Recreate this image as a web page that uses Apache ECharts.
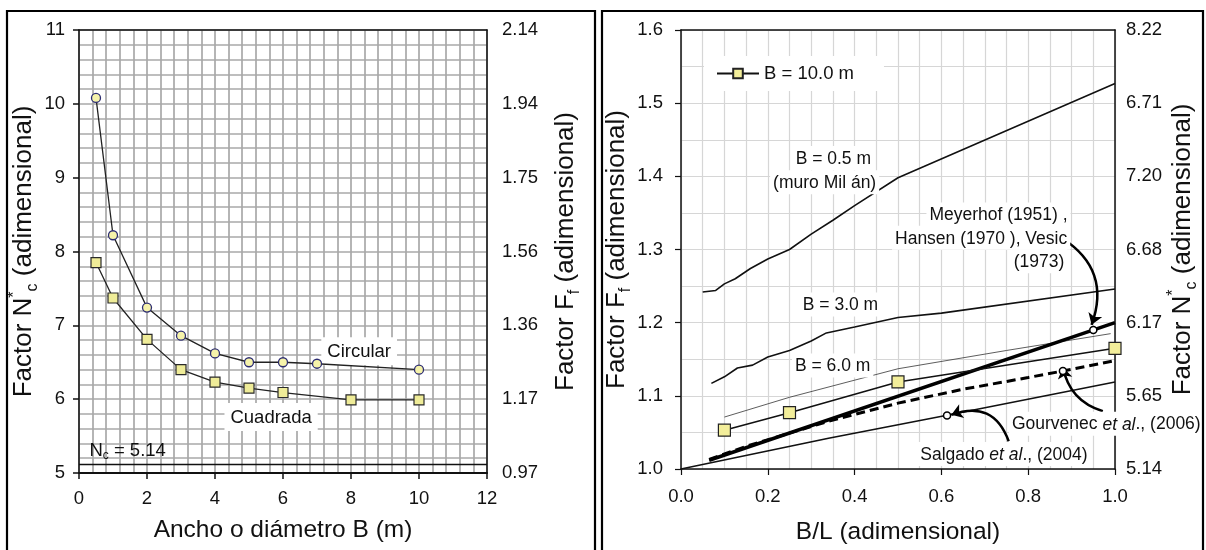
<!DOCTYPE html>
<html><head><meta charset="utf-8">
<script src="https://cdn.jsdelivr.net/npm/echarts@6/dist/echarts.min.js"></script>
<style>html,body{margin:0;padding:0;background:#fff}#c{width:1206px;height:550px}</style>
</head><body><div id="c"></div>
<script>
// ---------- Left chart data ----------
const circX = [0.5, 1, 2, 3, 4, 5, 6, 7, 10];
const circular = [10.08, 8.22, 7.24, 6.86, 6.62, 6.50, 6.50, 6.48, 6.40];
const cuadX = [0.5, 1, 2, 3, 4, 5, 6, 8, 10];
const cuadrada = [7.85, 7.37, 6.81, 6.40, 6.23, 6.15, 6.09, 5.99, 5.99];
const ncValue = 5.12;
const leftRightLabels = ['0.97', '1.17', '1.36', '1.56', '1.75', '1.94', '2.14'];

// ---------- Right chart data ----------
const b05X = [0.05, 0.08, 0.10, 0.125, 0.16, 0.20, 0.25, 0.30, 0.35, 0.40, 0.50, 1.0];
const b05Y = [1.242, 1.244, 1.253, 1.260, 1.274, 1.287, 1.300, 1.321, 1.340, 1.360, 1.398, 1.527];
const b3X = [0.07, 0.10, 0.13, 0.165, 0.20, 0.25, 0.30, 0.335, 0.40, 0.50, 0.60, 1.0];
const b3Y = [1.117, 1.126, 1.138, 1.142, 1.153, 1.162, 1.175, 1.186, 1.194, 1.207, 1.213, 1.246];
const b6X = [0.10, 0.25, 0.50, 0.75, 0.99];
const b6Y = [1.071, 1.098, 1.137, 1.162, 1.185];
const b10X = [0.10, 0.25, 0.50, 1.0];
const b10Y = [1.053, 1.077, 1.119, 1.165];
const meyX = [0.065, 1.0];
const meyY = [1.012, 1.200];
const gouX = [0.065, 0.15, 0.25, 0.35, 0.50, 0.65, 0.80, 0.88, 1.0];
const gouY = [1.013, 1.031, 1.049, 1.067, 1.090, 1.109, 1.125, 1.134, 1.148];
const salX = [0.0, 0.34, 0.61, 1.0];
const salY = [1.000, 1.042, 1.073, 1.119];
const refPtX = [0.95, 0.88, 0.613];
const refPtY = [1.190, 1.134, 1.073];
const rightRightLabels = ['5.14', '5.65', '6.17', '6.68', '7.20', '6.71', '8.22'];

const FONT = 'Liberation Sans, Arial, sans-serif';
const TXT = '#111';
const zip = (xs, ys) => xs.map((x, i) => [x, ys[i]]);

const chart = echarts.init(document.getElementById('c'), null, {renderer: 'canvas'});

const leftGrid = {left: 79, top: 30, width: 408, height: 443, show: false};
const rightGrid = {left: 681, top: 30, width: 434, height: 441, show: false};

const nameRich = {
  a: {fontSize: 26, fontFamily: FONT, color: TXT, lineHeight: 34},
  sup: {fontSize: 16, fontFamily: FONT, color: TXT, verticalAlign: 'top', lineHeight: 16},
  sub: {fontSize: 16, fontFamily: FONT, color: TXT, verticalAlign: 'bottom', lineHeight: 16}
};
const nameStyle = {fontSize: 26, fontFamily: FONT, color: TXT, rich: nameRich};
const tickLabel = (extra) => Object.assign({fontSize: 18.5, fontFamily: FONT, color: TXT}, extra);

const topAxis = (g, min, max) => ({
  gridIndex: g, type: 'value', position: 'top', min: min, max: max,
  axisLine: {show: true, lineStyle: {color: '#111', width: 1.5}},
  axisTick: {show: false}, axisLabel: {show: false}, splitLine: {show: false}
});

function textItem(x, y, fmt, extra) {
  return {value: [x, y], label: Object.assign({show: true, position: 'inside', formatter: fmt}, extra || {})};
}
const labelRich = {
  n: {fontSize: 17.5, fontFamily: FONT, color: TXT},
  i: {fontSize: 17.5, fontFamily: FONT, color: TXT, fontStyle: 'italic'}
};
const labelBase = {fontSize: 17.5, fontFamily: FONT, color: TXT, lineHeight: 22, rich: labelRich};

const option = {
  animation: false,
  backgroundColor: '#fff',
  textStyle: {fontFamily: FONT},
  graphic: [
    {type: 'rect', silent: true, z: 100, shape: {x: 7, y: 11, width: 588, height: 560}, style: {fill: 'none', stroke: '#000', lineWidth: 2.2}},
    {type: 'rect', silent: true, z: 100, shape: {x: 602, y: 11, width: 601, height: 560}, style: {fill: 'none', stroke: '#000', lineWidth: 2.2}}
  ],
  legend: {
    data: ['B = 10.0 m'], left: 704, top: 56, orient: 'vertical',
    backgroundColor: '#fff', padding: [8, 30, 8, 12],
    itemWidth: 42, itemHeight: 12, itemGap: 4,
    textStyle: {fontSize: 18.5, fontFamily: FONT, color: TXT}
  },
  grid: [leftGrid, rightGrid],
  xAxis: [
    {
      gridIndex: 0, type: 'value', min: 0, max: 12, interval: 2,
      name: 'Ancho o diámetro B (m)', nameLocation: 'middle', nameGap: 45,
      nameTextStyle: {fontSize: 24.5, fontFamily: FONT, color: TXT},
      axisLine: {show: true, onZero: false, lineStyle: {color: '#111', width: 2}},
      axisTick: {show: true, length: 6, lineStyle: {color: '#111', width: 1.5}},
      axisLabel: tickLabel({margin: 16}),
      splitLine: {show: true, lineStyle: {color: '#a8a8a8', width: 1.7}},
      minorTick: {show: false, splitNumber: 5},
      minorSplitLine: {show: true, lineStyle: {color: '#a8a8a8', width: 1.7}}
    },
    {
      gridIndex: 1, type: 'value', min: 0, max: 1, interval: 0.2,
      name: 'B/L (adimensional)', nameLocation: 'middle', nameGap: 51,
      nameTextStyle: {fontSize: 24.5, fontFamily: FONT, color: TXT},
      axisLine: {show: true, onZero: false, lineStyle: {color: '#111', width: 1.5}},
      axisTick: {show: true, length: 6, lineStyle: {color: '#111', width: 1.2}},
      axisLabel: tickLabel({margin: 18, formatter: v => v.toFixed(1)}),
      splitLine: {show: true, lineStyle: {color: '#d6d6d6', width: 1.2}},
      minorTick: {show: false, splitNumber: 4},
      minorSplitLine: {show: true, lineStyle: {color: '#d6d6d6', width: 1.2}}
    },
    topAxis(0, 0, 12),
    topAxis(1, 0, 1)
  ],
  yAxis: [
    {
      gridIndex: 0, type: 'value', min: 5, max: 11, interval: 1,
      name: '{a|Factor N}{sup|*}{sub|c}{a| (adimensional)}', nameLocation: 'middle', nameGap: 37,
      nameTextStyle: nameStyle,
      axisLine: {show: true, onZero: false, lineStyle: {color: '#111', width: 1.5}},
      axisTick: {show: true, length: 6, lineStyle: {color: '#111', width: 1.5}},
      axisLabel: tickLabel({margin: 14}),
      splitLine: {show: true, lineStyle: {color: '#a8a8a8', width: 1.7}},
      minorTick: {show: false, splitNumber: 5},
      minorSplitLine: {show: true, lineStyle: {color: '#a8a8a8', width: 1.7}}
    },
    {
      gridIndex: 0, type: 'value', position: 'right', min: 5, max: 11, interval: 1,
      name: '{a|Factor F}{sub|f}{a| (adimensional)}', nameLocation: 'middle', nameGap: 62,
      nameTextStyle: nameStyle,
      axisLine: {show: true, onZero: false, lineStyle: {color: '#111', width: 1.5}},
      axisTick: {show: false},
      axisLabel: tickLabel({margin: 15, formatter: (v) => leftRightLabels[Math.round(v - 5)]}),
      splitLine: {show: false}
    },
    {
      gridIndex: 1, type: 'value', min: 1.0, max: 1.6, interval: 0.1,
      name: '{a|Factor F}{sub|f}{a| (adimensional)}', nameLocation: 'middle', nameGap: 46,
      nameTextStyle: nameStyle,
      axisLine: {show: true, onZero: false, lineStyle: {color: '#111', width: 1.5}},
      axisTick: {show: true, length: 6, lineStyle: {color: '#111', width: 1.2}},
      axisLabel: tickLabel({margin: 18, formatter: v => v.toFixed(1)}),
      splitLine: {show: true, lineStyle: {color: '#d6d6d6', width: 1.2}},
      minorTick: {show: false, splitNumber: 2},
      minorSplitLine: {show: true, lineStyle: {color: '#d6d6d6', width: 1.2}}
    },
    {
      gridIndex: 1, type: 'value', position: 'right', min: 1.0, max: 1.6, interval: 0.1,
      name: '{a|Factor N}{sup|*}{sub|c}{a| (adimensional)}', nameLocation: 'middle', nameGap: 51,
      nameTextStyle: nameStyle,
      axisLine: {show: true, onZero: false, lineStyle: {color: '#111', width: 1.5}},
      axisTick: {show: false},
      axisLabel: tickLabel({margin: 11, formatter: (v) => rightRightLabels[Math.round((v - 1.0) * 10)]}),
      splitLine: {show: false}
    }
  ],
  series: [
    // ----- left chart -----
    {
      type: 'line', name: 'Circular', xAxisIndex: 0, yAxisIndex: 0, z: 5,
      data: zip(circX, circular),
      symbol: 'circle', symbolSize: 9, showAllSymbol: true,
      lineStyle: {color: '#222', width: 1.3},
      itemStyle: {color: '#f6f3aa', borderColor: '#2d2d72', borderWidth: 1.3},
      markLine: {
        silent: true, symbol: 'none', label: {show: false},
        lineStyle: {color: '#111', width: 1.3, type: 'solid'},
        data: [{yAxis: ncValue}]
      }
    },
    {
      type: 'line', name: 'Cuadrada', xAxisIndex: 0, yAxisIndex: 0, z: 5,
      data: zip(cuadX, cuadrada),
      symbol: 'rect', symbolSize: 10, showAllSymbol: true,
      lineStyle: {color: '#222', width: 1.3},
      itemStyle: {color: '#efec98', borderColor: '#2a2a2a', borderWidth: 1.2}
    },
    {
      type: 'scatter', name: '_leftText', xAxisIndex: 0, yAxisIndex: 0, symbolSize: 0, z: 4, silent: true,
      itemStyle: {opacity: 1},
      label: Object.assign({}, labelBase, {fontSize: 18.5}),
      data: [
        textItem(8.24, 6.65, '{n|Circular}', {backgroundColor: '#fff', padding: [4, 6, 2, 6], rich: {n: {fontSize: 18.5, fontFamily: FONT, color: TXT}}}),
        textItem(5.65, 5.76, '{n|Cuadrada}', {backgroundColor: '#fff', padding: [4, 6, 2, 6], rich: {n: {fontSize: 18.5, fontFamily: FONT, color: TXT}}}),
        textItem(1.43, 5.30, '{n|N}{s|c}{n| = 5.14}', {rich: {n: {fontSize: 18.5, fontFamily: FONT, color: TXT, lineHeight: 22}, s: {fontSize: 12, fontFamily: FONT, color: TXT, verticalAlign: 'bottom', lineHeight: 12}}})
      ]
    },
    // ----- right chart -----
    {
      type: 'line', name: 'B = 0.5 m', xAxisIndex: 1, yAxisIndex: 2, symbol: 'none', z: 5,
      data: zip(b05X, b05Y), lineStyle: {color: '#111', width: 1.6}
    },
    {
      type: 'line', name: 'B = 3.0 m', xAxisIndex: 1, yAxisIndex: 2, symbol: 'none', z: 5,
      data: zip(b3X, b3Y), lineStyle: {color: '#111', width: 1.6}
    },
    {
      type: 'line', name: 'B = 6.0 m', xAxisIndex: 1, yAxisIndex: 2, symbol: 'none', z: 5,
      data: zip(b6X, b6Y), lineStyle: {color: '#333', width: 0.8}
    },
    {
      type: 'line', name: 'Meyerhof', xAxisIndex: 1, yAxisIndex: 2, symbol: 'none', z: 5,
      data: zip(meyX, meyY), lineStyle: {color: '#000', width: 3.5}
    },
    {
      type: 'line', name: 'Gourvenec', xAxisIndex: 1, yAxisIndex: 2, symbol: 'none', z: 5,
      data: zip(gouX, gouY), lineStyle: {color: '#000', width: 3, type: [9, 5]}
    },
    {
      type: 'line', name: 'Salgado', xAxisIndex: 1, yAxisIndex: 2, symbol: 'none', z: 5,
      data: zip(salX, salY), lineStyle: {color: '#111', width: 1.6}
    },
    {
      type: 'line', name: 'B = 10.0 m', xAxisIndex: 1, yAxisIndex: 2, z: 6,
      data: zip(b10X, b10Y),
      symbol: 'rect', symbolSize: 12, showAllSymbol: true,
      lineStyle: {color: '#111', width: 1.6},
      itemStyle: {color: '#f3ee9a', borderColor: '#222', borderWidth: 1.2}
    },
    {
      type: 'lines', name: '_arrows', coordinateSystem: 'cartesian2d', xAxisIndex: 1, yAxisIndex: 2, z: 7, silent: true,
      symbol: ['none', 'arrow'], symbolSize: [1, 11],
      lineStyle: {color: '#000', width: 2.5, opacity: 1},
      data: [
        {coords: [[0.879, 1.315], [0.946, 1.197]], lineStyle: {curveness: 0.4}},
        {coords: [[0.972, 1.079], [0.880, 1.139]], lineStyle: {curveness: 0.3}},
        {coords: [[0.755, 1.038], [0.623, 1.074]], lineStyle: {curveness: -0.5}}
      ]
    },
    {
      type: 'scatter', name: '_refPts', xAxisIndex: 1, yAxisIndex: 2, z: 8, silent: true,
      data: zip(refPtX, refPtY), symbol: 'circle', symbolSize: 7,
      itemStyle: {color: '#fff', borderColor: '#000', borderWidth: 1.5, opacity: 1}
    },
    {
      type: 'scatter', name: '_rightText', xAxisIndex: 1, yAxisIndex: 2, symbolSize: 0, z: 9, silent: true,
      itemStyle: {opacity: 1},
      label: Object.assign({}, labelBase, {backgroundColor: '#fff', padding: [2, 3, 0, 3]}),
      data: [
        textItem(0.351, 1.425, '{n|B = 0.5 m}'),
        textItem(0.331, 1.392, '{n|(muro Mil án)}'),
        textItem(0.7315, 1.348, '{n|Meyerhof (1951) ,}'),
        textItem(0.6915, 1.316, '{n|Hansen (1970 ), Vesic}'),
        textItem(0.825, 1.284, '{n|(1973)}'),
        textItem(0.3675, 1.225, '{n|B = 3.0 m}'),
        textItem(0.3495, 1.1416, '{n|B = 6.0 m}'),
        textItem(0.980, 1.062, '{n|Gourvenec }{i|et al}{n|., (2006)}'),
        textItem(0.744, 1.0205, '{n|Salgado }{i|et al}{n|., (2004)}')
      ]
    }
  ]
};
chart.setOption(option);
</script>
</body></html>
